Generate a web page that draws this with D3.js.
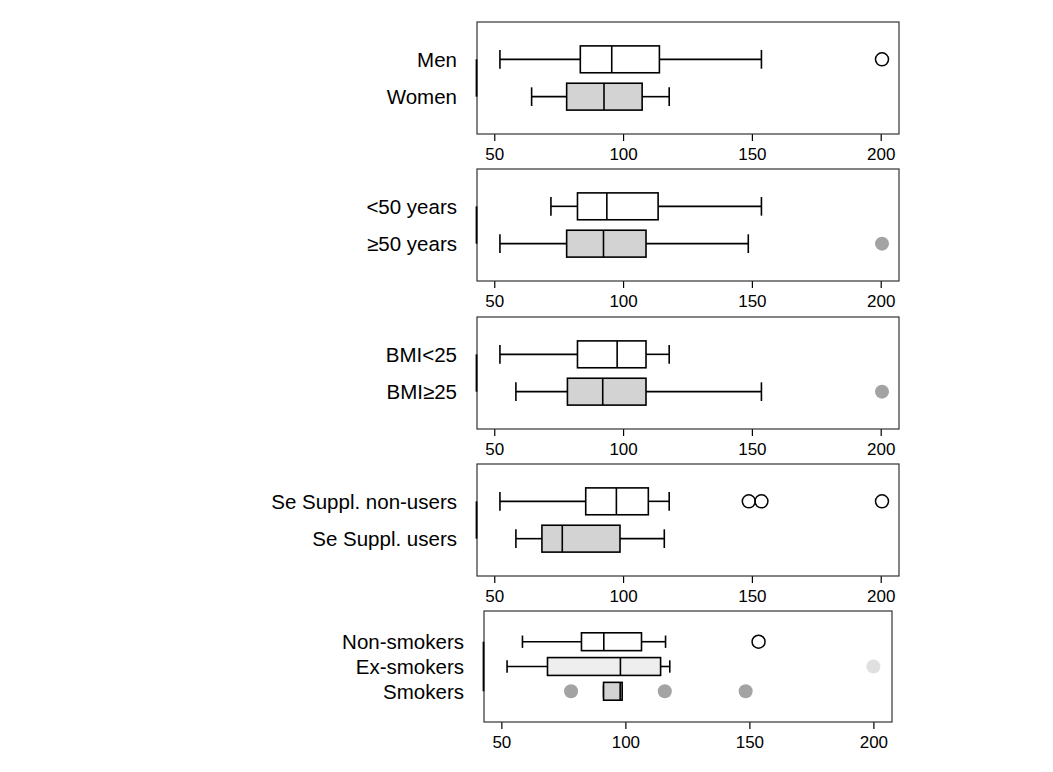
<!DOCTYPE html>
<html>
<head>
<meta charset="utf-8">
<script src="https://cdn.jsdelivr.net/npm/d3@7"></script>
<style>
  body { margin: 0; background: #fff; }
  text { font-family: "Liberation Sans", Arial, sans-serif; fill: #000; }
</style>
</head>
<body>
<svg id="chart" width="1053" height="772"></svg>
<script>
// groups, top to bottom, and which panel each sits in
const groups = ["Men", "Women", "<50 years", "\u226550 years", "BMI<25", "BMI\u226525",
                "Se Suppl. non-users", "Se Suppl. users", "Non-smokers", "Ex-smokers", "Smokers"];
const panelOf = [0, 0, 1, 1, 2, 2, 3, 3, 4, 4, 4];

// box statistics
const whiskerLow  = [52.2, 64.5, 72.0, 52.2, 52.2, 58.4, 52.2, 58.4, 58.5, 52.3, 91.2];
const q1          = [83.4, 78.1, 82.3, 78.1, 82.3, 78.4, 85.5, 68.5, 82.3, 68.6, 91.2];
const medians     = [95.6, 92.6, 93.7, 92.4, 97.7, 92.1, 97.4, 76.4, 91.3, 98.0, 97.9];
const q3          = [114.1, 107.4, 113.6, 108.9, 108.9, 108.9, 109.8, 98.8, 106.5, 114.2, 98.7];
const whiskerHigh = [153.7, 117.9, 153.7, 148.6, 117.9, 153.7, 117.9, 116.0, 116.2, 117.9, 98.7];
const outliers    = [[200.5], [], [], [200.5], [], [200.5], [148.8, 153.7, 200.5], [], [153.7], [200], [78.1, 115.9, 148.5]];

const tickValues = [50, 100, 150, 200];

// styling per group
const boxFill   = ["#fff", "#d3d3d3", "#fff", "#d3d3d3", "#fff", "#d3d3d3", "#fff", "#d3d3d3", "#fff", "#eeeeee", "#d3d3d3"];
const pointFill = [null, null, null, "#a3a3a3", null, "#a3a3a3", null, null, null, "#e0e0e0", "#a3a3a3"];

// panel frames
const panels = [
  {left: 477, right: 899, top: 22,  bottom: 134, xdom: [43.3, 207.1], pad: 1},
  {left: 477, right: 899, top: 169, bottom: 281, xdom: [43.3, 207.1], pad: 1},
  {left: 477, right: 899, top: 317, bottom: 429, xdom: [43.3, 207.1], pad: 1},
  {left: 477, right: 899, top: 464, bottom: 576, xdom: [43.3, 207.1], pad: 1},
  {left: 484, right: 892, top: 611, bottom: 722, xdom: [43.0, 207.5], pad: 1.24}
];

const svg = d3.select("#chart");

panels.forEach(function(p, pi) {
  let idx = groups.map((g, i) => i).filter(i => panelOf[i] === pi);
  let n = idx.length;

  let x = d3.scaleLinear().domain(p.xdom).range([p.left, p.right]);
  let y = d3.scaleLinear().domain([1 - p.pad, n + p.pad]).range([p.top, p.bottom]);
  let step = y(2) - y(1);
  let bh = step * 0.72, cap = step * 0.5;

  let g = svg.append("g");

  // x axis
  let ax = g.append("g")
      .attr("transform", "translate(0," + p.bottom + ")")
      .call(d3.axisBottom(x).tickValues(tickValues).tickSize(7).tickPadding(7).tickSizeOuter(0));
  ax.select(".domain").remove();
  ax.selectAll("line").attr("stroke", "#000").attr("stroke-width", 1.2);
  ax.selectAll("text").attr("font-size", "17px")
      .attr("font-family", "Liberation Sans, Arial, sans-serif");

  // frame
  g.append("rect")
      .attr("x", p.left).attr("y", p.top)
      .attr("width", p.right - p.left).attr("height", p.bottom - p.top)
      .attr("fill", "none").attr("stroke", "#333").attr("stroke-width", 1.2);

  // short y axis line on the frame edge
  g.append("line")
      .attr("x1", p.left - 0.5).attr("x2", p.left - 0.5)
      .attr("y1", y(1)).attr("y2", y(n))
      .attr("stroke", "#000").attr("stroke-width", 1.8);

  idx.forEach(function(i, k) {
    let cy = y(k + 1);

    g.append("text")
        .attr("x", p.left - 20).attr("y", cy + 7.5)
        .attr("text-anchor", "end").attr("font-size", "20.5px")
        .text(groups[i]);

    function line(x1, y1, x2, y2) {
      g.append("line").attr("x1", x1).attr("y1", y1).attr("x2", x2).attr("y2", y2)
          .attr("stroke", "#000").attr("stroke-width", 1.6);
    }

    // whiskers and caps
    line(x(whiskerLow[i]), cy, x(q1[i]), cy);
    line(x(q3[i]), cy, x(whiskerHigh[i]), cy);
    line(x(whiskerLow[i]), cy - cap / 2, x(whiskerLow[i]), cy + cap / 2);
    line(x(whiskerHigh[i]), cy - cap / 2, x(whiskerHigh[i]), cy + cap / 2);

    // box
    g.append("rect")
        .attr("x", x(q1[i])).attr("y", cy - bh / 2)
        .attr("width", x(q3[i]) - x(q1[i])).attr("height", bh)
        .attr("fill", boxFill[i]).attr("stroke", "#000").attr("stroke-width", 1.6);
    line(x(medians[i]), cy - bh / 2, x(medians[i]), cy + bh / 2);

    // outliers
    g.selectAll(null)
      .data(outliers[i])
      .enter().append("circle")
        .attr("cx", d => x(d)).attr("cy", cy)
        .attr("r", pointFill[i] ? 7 : 6.5)
        .attr("fill", pointFill[i] || "none")
        .attr("stroke", pointFill[i] ? "none" : "#000")
        .attr("stroke-width", 1.5);
  });
});
</script>
</body>
</html>
